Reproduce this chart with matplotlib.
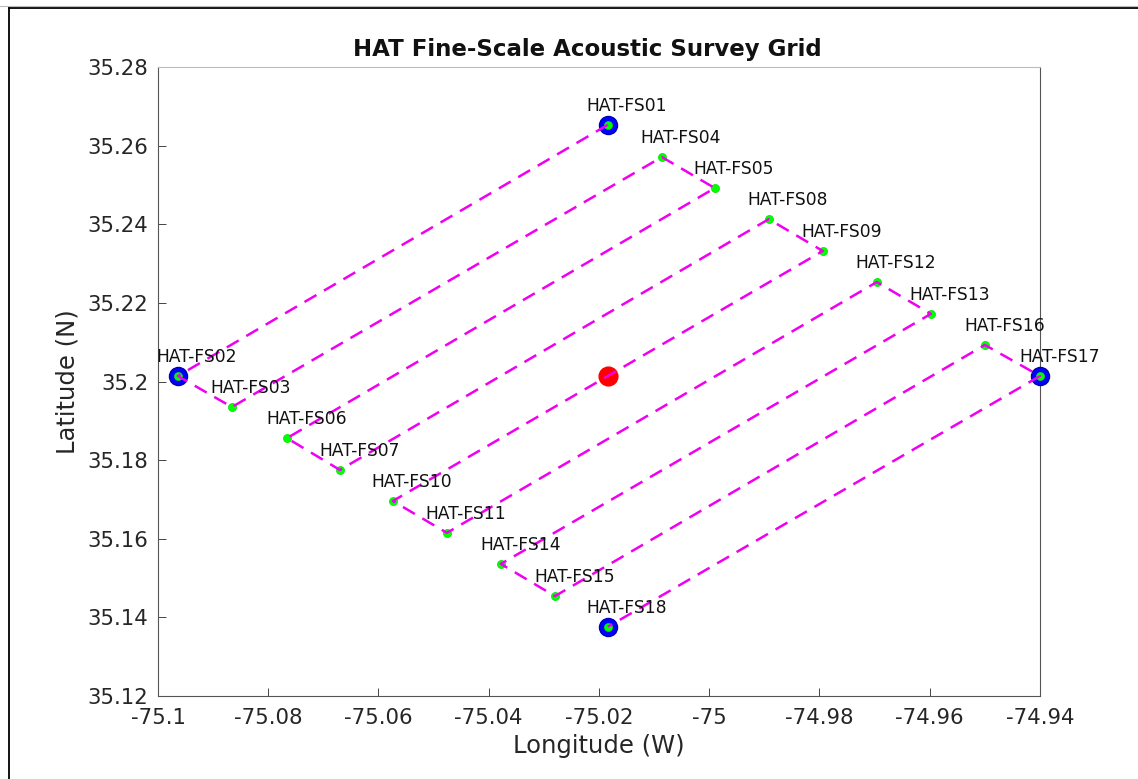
import matplotlib
matplotlib.use("Agg")
import matplotlib.pyplot as plt
from matplotlib.lines import Line2D

# ---- data ----
stations = ["HAT-FS01", "HAT-FS02", "HAT-FS03", "HAT-FS04", "HAT-FS05", "HAT-FS06",
            "HAT-FS07", "HAT-FS08", "HAT-FS09", "HAT-FS10", "HAT-FS11", "HAT-FS12",
            "HAT-FS13", "HAT-FS14", "HAT-FS15", "HAT-FS16", "HAT-FS17", "HAT-FS18"]
lon = [-75.0184, -75.0964, -75.0866, -75.0086, -74.9990, -75.0766,
       -75.0670, -74.9892, -74.9794, -75.0574, -75.0476, -74.9696,
       -74.9598, -75.0378, -75.0280, -74.9500, -74.9400, -75.0184]
lat = [35.2653, 35.2014, 35.1935, 35.2571, 35.2492, 35.1856,
       35.1775, 35.2413, 35.2332, 35.1696, 35.1615, 35.2253,
       35.2172, 35.1536, 35.1454, 35.2093, 35.2014, 35.1376]
corner_idx = [0, 1, 16, 17]
center_lon = [-75.0184]
center_lat = [35.2014]

xticks = [-75.1, -75.08, -75.06, -75.04, -75.02, -75.0, -74.98, -74.96, -74.94]
xticklabels = ["-75.1", "-75.08", "-75.06", "-75.04", "-75.02", "-75", "-74.98", "-74.96", "-74.94"]
yticks = [35.12, 35.14, 35.16, 35.18, 35.20, 35.22, 35.24, 35.26, 35.28]
yticklabels = ["35.12", "35.14", "35.16", "35.18", "35.2", "35.22", "35.24", "35.26", "35.28"]

plt.rcParams["font.family"] = ["DejaVu Sans"]

fig = plt.figure(figsize=(11.38, 7.79), dpi=100)
W, H = 1138, 779
ax = fig.add_axes([158 / W, 1 - 696 / H, (1040 - 158) / W, (696 - 67) / H])

# corner markers (blue)
ax.plot([lon[i] for i in corner_idx], [lat[i] for i in corner_idx], "o",
        ms=13, mfc="#0000ff", mec="#0000b0", mew=1.0, ls="none", zorder=2.6, clip_on=False)
# center marker (red)
ax.plot(center_lon, center_lat, "o", ms=13.5, mfc="#ff0000", mec="#ff0000", ls="none",
        zorder=2.6, clip_on=False)
# station markers (green)
ax.plot(lon, lat, "o", ms=5.8, mfc="#00ff00", mec="#00e000", mew=0.5, ls="none",
        zorder=3, clip_on=False)
# survey track
ax.plot(lon, lat, color="#f000f0", lw=1.8, ls=(0, (5.5, 3.5)), zorder=4, clip_on=False)

for name, x, y in zip(stations, lon, lat):
    ax.annotate(name, (x, y), xytext=(-21, 19), textcoords="offset pixels",
                ha="left", va="center", fontsize=12.3, color="#111111", zorder=5)

ax.set_xlim(-75.1, -74.94)
ax.set_ylim(35.12, 35.28)
ax.set_xticks(xticks)
ax.set_xticklabels(xticklabels)
ax.set_yticks(yticks)
ax.set_yticklabels(yticklabels)
ax.tick_params(direction="in", length=6, width=0.6, colors="#262626",
               labelsize=15.3, top=False, right=False)
ax.tick_params(axis="x", pad=9)
ax.tick_params(axis="y", pad=7)
for s in ax.spines.values():
    s.set_color("#555555")
    s.set_linewidth(0.8)
    s.set_zorder(2.5)
ax.spines["top"].set_color("#bbbbbb")

ax.set_xlabel("Longitude (W)", fontsize=17.5, color="#262626", labelpad=4)
ax.set_ylabel("Latitude (N)", fontsize=17.5, color="#262626", labelpad=6)
ax.set_title("HAT Fine-Scale Acoustic Survey Grid", fontsize=16.5, fontweight="bold",
             color="#111111", pad=8, x=0.487)

# outer frame (top and left edges)
fig.add_artist(Line2D([9 / W, 1], [1 - 8 / H, 1 - 8 / H], transform=fig.transFigure,
                      color="black", lw=1.3))
fig.add_artist(Line2D([9 / W, 9 / W], [0, 1 - 8 / H], transform=fig.transFigure,
                      color="black", lw=1.3))
fig.add_artist(Line2D([0, 1], [1 - 6 / H, 1 - 6 / H], transform=fig.transFigure,
                      color="#bbbbbb", lw=0.8))

fig.savefig("out.png", dpi=100)
